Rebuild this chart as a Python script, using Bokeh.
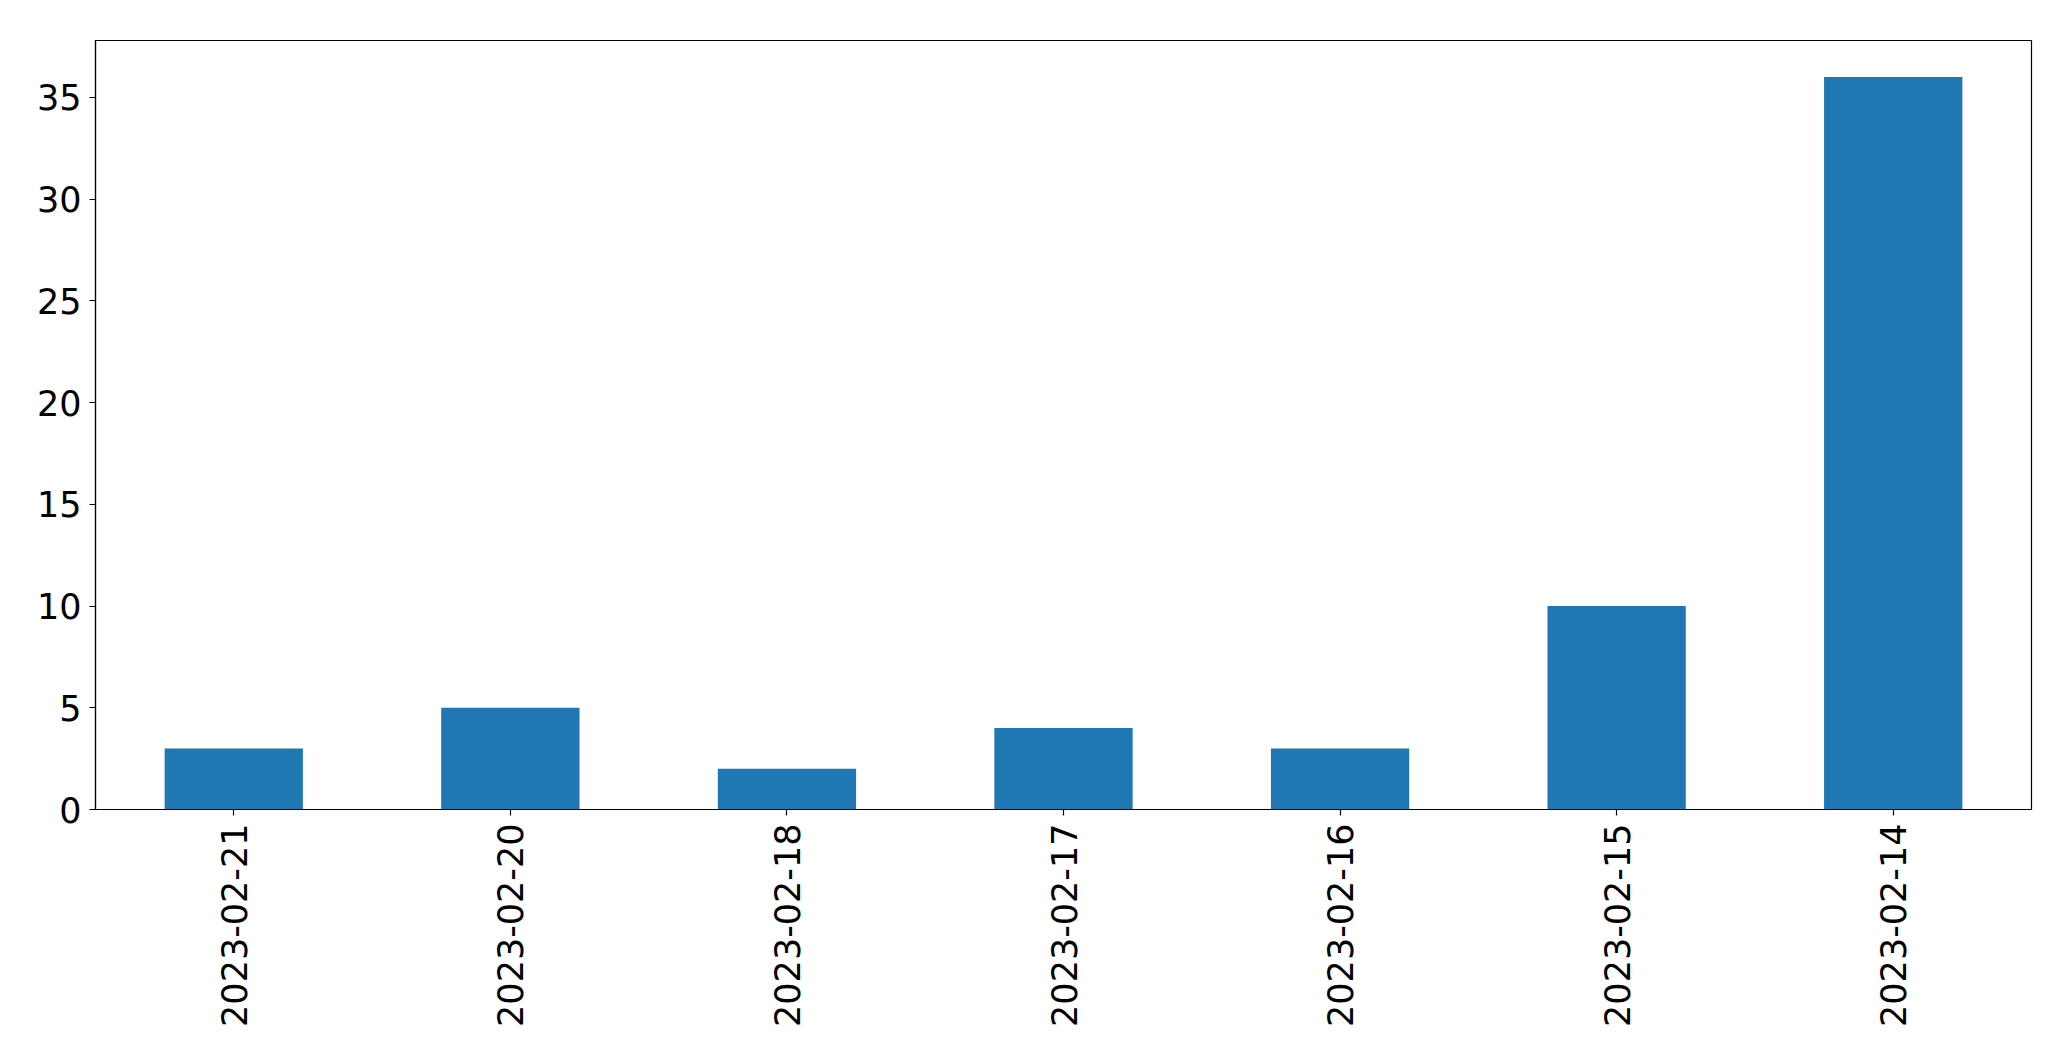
import math
from bokeh.plotting import figure
from bokeh.models import ColumnDataSource, FactorRange, Range1d, FixedTicker
from bokeh.embed import file_html
from bokeh.resources import INLINE

dates = ["2023-02-21", "2023-02-20", "2023-02-18", "2023-02-17", "2023-02-16", "2023-02-15", "2023-02-14"]
counts = [3, 5, 2, 4, 3, 10, 36]
y_ticks = [0, 5, 10, 15, 20, 25, 30, 35]

source = ColumnDataSource(data=dict(dates=dates, counts=counts))

p = figure(
    x_range=FactorRange(*dates, range_padding=0),
    y_range=Range1d(0, max(counts) * 1.05),
    width=2063, height=1053,
    output_backend="svg", toolbar_location=None,
    min_border_left=95, min_border_top=40, min_border_right=32, min_border_bottom=244,
)
p.vbar(x="dates", top="counts", width=0.5, source=source, color="#1f77b4", line_color=None)

p.xgrid.visible = False
p.ygrid.visible = False
p.outline_line_color = "black"
p.outline_line_width = 1.2
p.background_fill_color = "white"
p.border_fill_color = "white"

for ax in (p.xaxis[0], p.yaxis[0]):
    ax.axis_line_color = "black"
    ax.axis_line_width = 1.2
    ax.major_tick_line_color = "black"
    ax.major_tick_line_width = 1.2
    ax.major_tick_in = 0
    ax.major_tick_out = 6
    ax.minor_tick_line_color = None
    ax.major_label_text_font = "DejaVu Sans"
    ax.major_label_text_font_size = "35px"
    ax.major_label_text_color = "black"
    ax.major_label_standoff = 8

p.yaxis[0].ticker = FixedTicker(ticks=y_ticks)
p.xaxis[0].major_label_orientation = math.pi / 2

open("out.html", "w").write(file_html(p, INLINE))
